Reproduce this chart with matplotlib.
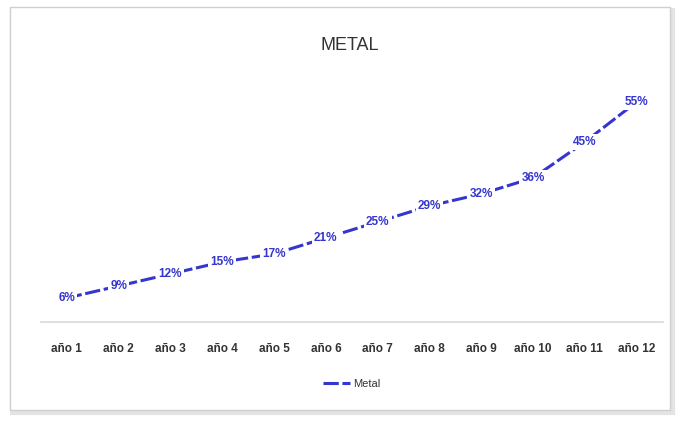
import matplotlib.pyplot as plt
from matplotlib.patches import Rectangle

plt.rcParams["font.family"] = ["Liberation Sans", "DejaVu Sans"]

years = ["año 1", "año 2", "año 3", "año 4", "año 5", "año 6",
         "año 7", "año 8", "año 9", "año 10", "año 11", "año 12"]
metal = [6, 9, 12, 15, 17, 21, 25, 29, 32, 36, 45, 55]

line_color = "#3535d0"

fig = plt.figure(figsize=(6.81, 4.22), dpi=100)
fig.patch.set_facecolor("white")

# chart frame with a faint shadow
fig.patches.append(Rectangle((0.018, 0.022), 0.970, 0.955, transform=fig.transFigure,
                             facecolor="none", edgecolor="#e4e4e4", linewidth=3, zorder=-2))
fig.patches.append(Rectangle((0.014, 0.028), 0.970, 0.955, transform=fig.transFigure,
                             facecolor="white", edgecolor="#cfcfcf", linewidth=1, zorder=-1))

ax = fig.add_axes([0.060, 0.237, 0.913, 0.569])
ax.set_zorder(2)
ax.patch.set_alpha(0)
x = list(range(len(years)))
ax.plot(x, metal, color=line_color, linewidth=2.2, linestyle=(0, (5, 1.2)), label="Metal")

for xi, v in zip(x, metal):
    ax.text(xi, v, f"{v}%", ha="center", va="center", fontsize=8.5, fontweight="bold",
            color=line_color, bbox=dict(facecolor="white", edgecolor="none", pad=1.5))

ax.set_xlim(-0.5, len(years) - 0.5)
ax.set_ylim(0, 60)
ax.set_xticks(x)
ax.set_xticklabels(years, fontsize=8.5, color="#333333", fontweight="bold")
ax.tick_params(axis="x", length=0, pad=15)
ax.set_yticks([])
for side in ["top", "left", "right"]:
    ax.spines[side].set_visible(False)
ax.spines["bottom"].set_color("#d9d9d9")
ax.spines["bottom"].set_linewidth(1.2)

fig.text(0.514, 0.893, "METAL", ha="center", va="center", fontsize=13, color="#333333")

ax.legend(loc="upper center", bbox_to_anchor=(0.5, -0.195), frameon=False, fontsize=8,
          handlelength=2.4, handletextpad=0.3, labelcolor="#333333")

fig.savefig("out.png", dpi=100)
